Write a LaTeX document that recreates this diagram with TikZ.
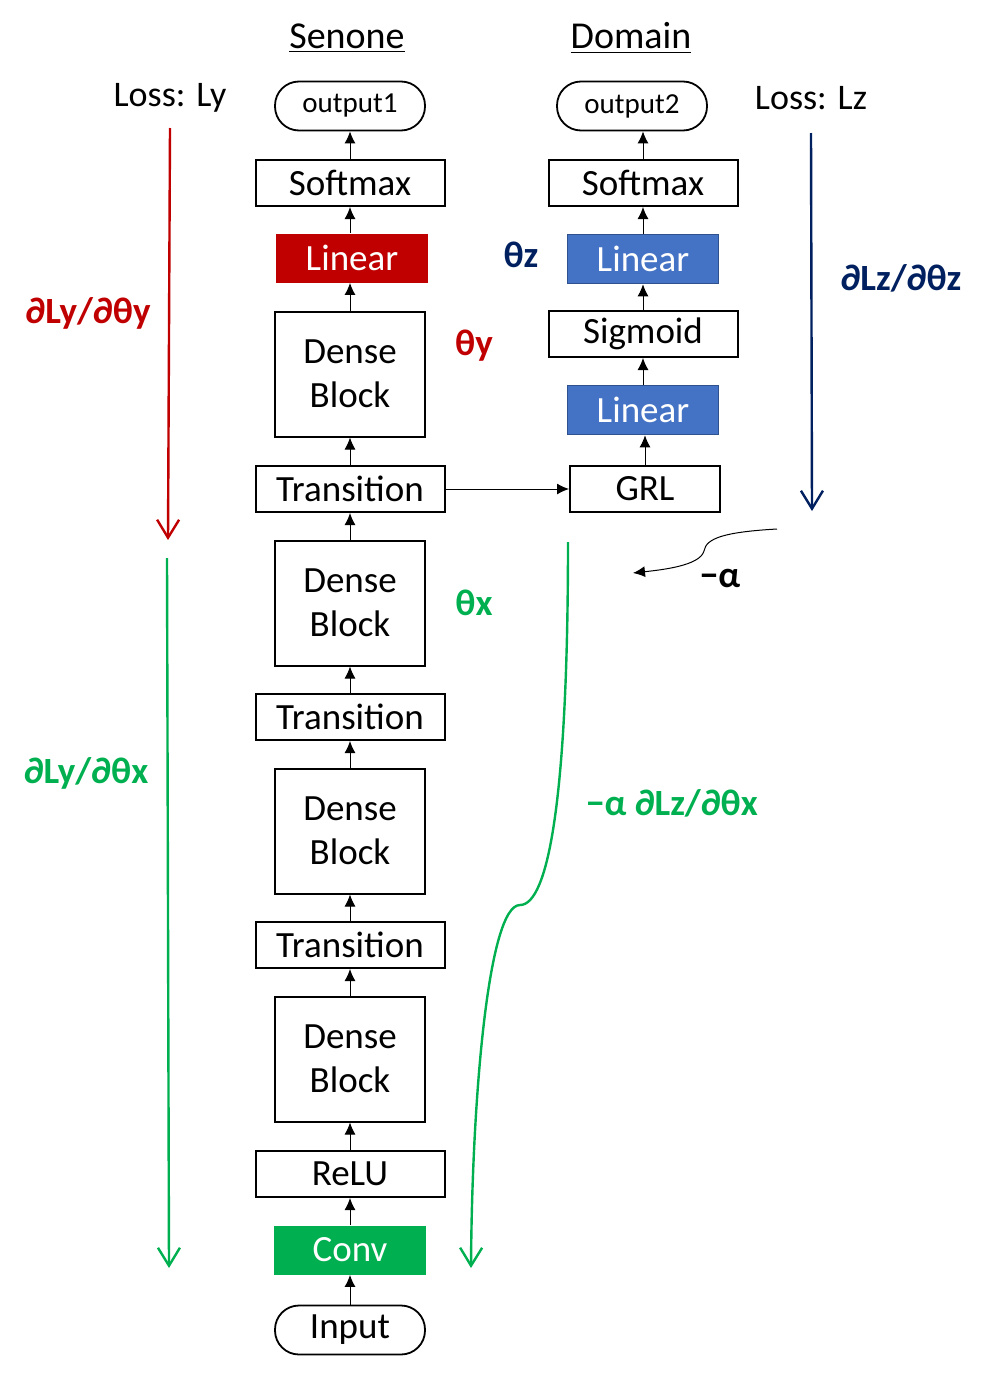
\documentclass[tikz,border=0pt]{standalone}
\usepackage{fontspec}
\setmainfont{Carlito}
\usepackage{xcolor}
\usepackage{tikz}
\usetikzlibrary{shapes,arrows,arrows.meta,positioning,calc}
\definecolor{lossred}{HTML}{C00000}
\definecolor{lossnavy}{HTML}{002060}
\definecolor{lossgreen}{HTML}{00B050}
\definecolor{linblue}{HTML}{4472C4}
\definecolor{linedge}{HTML}{2F528F}

\begin{document}
\begin{tikzpicture}[x=0.5pt,y=-0.5pt,
		widebox/.style={draw,line width=1pt,minimum width=94.5pt,minimum height=23pt,inner sep=0pt,font=\fontsize{18.5}{22}\selectfont},
		densebox/.style={draw,line width=1pt,minimum width=75pt,minimum height=62.5pt,inner sep=0pt,align=center,font=\fontsize{18.5}{22}\selectfont},
		colbox/.style={minimum width=76pt,minimum height=24.5pt,inner sep=0pt,text=white,font=\fontsize{18.5}{22}\selectfont},
		endbox/.style={draw,line width=0.9pt,rounded corners=12pt,minimum width=75pt,minimum height=24.5pt,inner sep=0pt},
		grad/.style={font=\bfseries\fontsize{18.5}{22}\selectfont},
		flow/.style={-{Latex[length=6pt,width=5.5pt]},line width=0.5pt},
		back/.style={-{Straight Barb[length=9pt,width=11pt]},line width=1.2pt}]
		\useasboundingbox (0,0) rectangle (985,1376);
		% column titles and losses
		\node (senone) at (347,38) {\fontsize{19}{22}\selectfont\underline{Senone}};
		\node (domain) at (631,38) {\fontsize{19}{22}\selectfont\underline{Domain}};
		\node (lossy) at (170,98) {\fontsize{18}{21}\selectfont Loss: Ly};
		\node (lossz) at (811,98) {\fontsize{18}{21}\selectfont Loss: Lz};
		% senone branch
		\node[endbox,font=\fontsize{14.5}{17}\selectfont] (out1) at (350,106) {output1};
		\node[widebox] (sm1) at (350,183) {Softmax};
		\node[colbox,fill=lossred] (lin1) at (352,258) {Linear};
		\node[densebox] (db4) at (350,374) {Dense\\Block};
		\node[widebox] (tr3) at (350,489) {Transition};
		\node[densebox] (db3) at (350,603) {Dense\\Block};
		\node[widebox] (tr2) at (350,717) {Transition};
		\node[densebox] (db2) at (350,831) {Dense\\Block};
		\node[widebox] (tr1) at (350,945) {Transition};
		\node[densebox] (db1) at (350,1059) {Dense\\Block};
		\node[widebox] (relu) at (350,1174) {ReLU};
		\node[colbox,fill=lossgreen] (conv) at (350,1250) {Conv};
		\node[endbox,font=\fontsize{18.5}{22}\selectfont] (input) at (350,1330) {Input};
		% domain branch
		\node[endbox,font=\fontsize{14.5}{17}\selectfont] (out2) at (632,106) {output2};
		\node[widebox] (sm2) at (643,183) {Softmax};
		\node[colbox,fill=linblue,draw=linedge,line width=0.8pt,minimum width=75.5pt] (lin3) at (643,259) {Linear};
		\node[widebox] (sig) at (643,334) {Sigmoid};
		\node[colbox,fill=linblue,draw=linedge,line width=0.8pt,minimum width=75.5pt] (lin2) at (643,410) {Linear};
		\node[widebox,minimum width=75pt] (grl) at (645,489) {GRL};
		% forward connections
		\draw[flow] (input) -- (conv);
		\draw[flow] (conv) -- (relu);
		\draw[flow] (relu) -- (db1);
		\draw[flow] (db1) -- (tr1);
		\draw[flow] (tr1) -- (db2);
		\draw[flow] (db2) -- (tr2);
		\draw[flow] (tr2) -- (db3);
		\draw[flow] (db3) -- (tr3);
		\draw[flow] (tr3) -- (db4);
		\draw[flow] (db4.north) -- (db4.north |- lin1.south);
		\draw[flow] (lin1.north -| sm1.south) -- (sm1.south);
		\draw[flow] (sm1) -- (out1);
		\draw[flow] (tr3) -- (grl);
		\draw[flow] (grl.north) -- (grl.north |- lin2.south);
		\draw[flow] (lin2) -- (sig);
		\draw[flow] (sig) -- (lin3);
		\draw[flow] (lin3) -- (sm2);
		\draw[flow] (sm2.north) -- (sm2.north |- out2.south);
		% parameter labels
		\node[grad,text=lossnavy] (thz) at (521,255) {θz};
		\node[grad,text=lossred] (thy) at (474,346) {θy};
		\node[grad,text=lossgreen] (thx) at (474,603) {θx};
		% gradient arrows
		\coordinate (ry1) at (170,128);
		\coordinate (ry2) at (168,540);
		\coordinate (gy1) at (167,558);
		\coordinate (gy2) at (169,1268);
		\coordinate (nz1) at (811,133);
		\coordinate (nz2) at (812,511);
		\coordinate (gz1) at (568,542);
		\coordinate (gzm) at (520,905);
		\coordinate (gz2) at (471,1268);
		\coordinate (al1) at (777,529);
		\coordinate (alm) at (704,551);
		\coordinate (al2) at (633,573);
		\draw[back,lossred] (ry1) -- (ry2);
		\draw[back,lossgreen] (gy1) -- (gy2);
		\draw[back,lossnavy] (nz1) -- (nz2);
		\draw[back,lossgreen] (gz1) .. controls (568,800) and (548,905) .. (gzm) .. controls (488,905) and (472,1100) .. (gz2);
		\draw[flow] (al1) .. controls (725,532) and (706,538) .. (alm) .. controls (700,566) and (660,570) .. (al2);
		\node[grad,text=lossred] (dyy) at (88,313) {∂Ly/∂θy};
		\node[grad,text=lossgreen] (dyx) at (86,773) {∂Ly/∂θx};
		\node[grad,text=lossnavy] (dzz) at (901,278) {∂Lz/∂θz};
		\node[grad,text=lossgreen] (dzx) at (672,803) {−α ∂Lz/∂θx};
		\node[grad] (alpha) at (720,578) {−α};
	\end{tikzpicture}
\end{document}
